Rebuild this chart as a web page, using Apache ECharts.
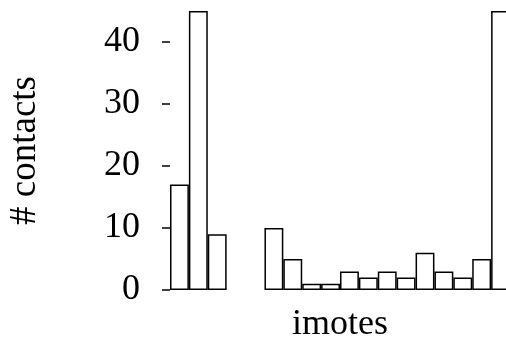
<!DOCTYPE html>
<html>
<head>
<meta charset="utf-8">
<script src="https://cdn.jsdelivr.net/npm/echarts@6/dist/echarts.min.js"></script>
<style>
html,body{margin:0;padding:0;background:#fff;}
#chart{width:506px;height:344px;}
</style>
</head>
<body>
<div id="chart"></div>
<script>
const categories = ['1','2','3','4','5','6','7','8','9','10','11','12','13','14','15','16','17','18'];
const contacts = [17, 45, 9, null, null, 10, 5, 1, 1, 3, 2, 3, 2, 6, 3, 2, 5, 45];
const yTicks = [0, 10, 20, 30, 40];
const xName = 'imotes';
const yName = '# contacts';

const font = 'Liberation Serif';
const chart = echarts.init(document.getElementById('chart'), null, {renderer: 'canvas'});
chart.setOption({
  animation: false,
  backgroundColor: '#fff',
  grid: {left: 170, top: 11, width: 340, height: 279, containLabel: false, outerBoundsMode: 'none'},
  xAxis: {
    type: 'category',
    data: categories,
    axisLine: {show: false},
    axisTick: {show: false},
    axisLabel: {show: false},
    name: xName,
    nameLocation: 'middle',
    nameGap: 17,
    nameTextStyle: {fontFamily: font, fontSize: 36, color: '#000'}
  },
  yAxis: {
    type: 'value',
    min: 0,
    max: 45,
    interval: 10,
    splitLine: {show: false},
    axisLine: {show: false},
    axisTick: {show: true, length: 8, customValues: yTicks, lineStyle: {color: '#000', width: 1.5}},
    axisLabel: {customValues: yTicks, margin: 30, fontFamily: font, fontSize: 36, color: '#000'},
    name: yName,
    nameLocation: 'middle',
    nameGap: 126,
    nameRotate: 90,
    nameTextStyle: {fontFamily: font, fontSize: 37, color: '#000'}
  },
  series: [{
    type: 'bar',
    data: contacts,
    barCategoryGap: 0,
    barWidth: '100%',
    itemStyle: {color: '#fff', borderColor: '#000', borderWidth: 1.5}
  }]
});
</script>
</body>
</html>
